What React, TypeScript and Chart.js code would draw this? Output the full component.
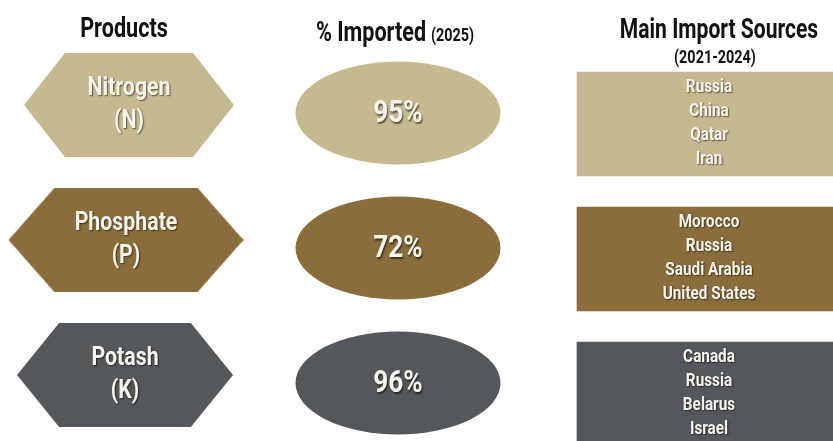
import React, { useEffect, useRef } from 'react';
import { Chart, registerables } from 'chart.js';

Chart.register(...registerables);

// ---------- data ----------
const products = ['Nitrogen', 'Phosphate', 'Potash'];
const symbols = ['N', 'P', 'K'];
const pctImported = [95, 72, 96];
const sourcesNitrogen = ['Russia', 'China', 'Qatar', 'Iran'];
const sourcesPhosphate = ['Morocco', 'Russia', 'Saudi Arabia', 'United States'];
const sourcesPotash = ['Canada', 'Russia', 'Belarus', 'Israel'];
const sources = [sourcesNitrogen, sourcesPhosphate, sourcesPotash];
const headerProducts = 'Products';
const headerImported = '% Imported';
const headerImportedYear = '(2025)';
const headerSources = 'Main Import Sources';
const headerSourcesYears = '(2021-2024)';

// ---------- layout / style ----------
const W = 833;
const H = 441;
const FILLS = ['#c7b98f', '#8b6d3c', '#54575c'];
const FONT = 'Roboto, "Liberation Sans", "DejaVu Sans", sans-serif';
const ROW_PX = 135;
const ROW0_PX = 113;
const Y_MIN = -ROW0_PX / ROW_PX;
const Y_MAX = Y_MIN + H / ROW_PX;
const HEX_CX = [129, 126, 125];
const HEX_W = [210, 235, 216];
const HEX_H = 104;
const HEX_DY = -8;
const ELL_CX = 398;
const ELL_W = 206;
const ELL_H = 104;
const RECT_X0 = 577;
const RECT_X1 = 845;
const RECT_H = 104;
const RECT_DY = 11;

function hexCanvas(w: number, h: number, color: string) {
  const c = document.createElement('canvas');
  c.width = w;
  c.height = h;
  const ctx = c.getContext('2d')!;
  const inset = w * 0.195;
  ctx.fillStyle = color;
  ctx.beginPath();
  ctx.moveTo(0, h / 2);
  ctx.lineTo(inset, 0);
  ctx.lineTo(w - inset, 0);
  ctx.lineTo(w, h / 2);
  ctx.lineTo(w - inset, h);
  ctx.lineTo(inset, h);
  ctx.closePath();
  ctx.fill();
  return c;
}

function ellipseCanvas(w: number, h: number, color: string) {
  const c = document.createElement('canvas');
  c.width = w;
  c.height = h;
  const ctx = c.getContext('2d')!;
  ctx.fillStyle = color;
  ctx.beginPath();
  ctx.ellipse(w / 2, h / 2, w / 2 - 0.5, h / 2 - 0.5, 0, 0, Math.PI * 2);
  ctx.fill();
  return c;
}

type TxtOpts = { size: number; sx?: number; color?: string; shadow?: boolean; align?: CanvasTextAlign; baseline?: CanvasTextBaseline };

function drawText(ctx: CanvasRenderingContext2D, text: string, x: number, y: number, o: TxtOpts) {
  ctx.save();
  ctx.translate(x, y);
  ctx.scale(o.sx ?? 0.82, 1);
  ctx.font = `bold ${o.size}px ${FONT}`;
  ctx.textAlign = o.align ?? 'center';
  ctx.textBaseline = o.baseline ?? 'middle';
  if (o.shadow) {
    ctx.shadowColor = 'rgba(0,0,0,0.55)';
    ctx.shadowOffsetX = 1;
    ctx.shadowOffsetY = 1.5;
    ctx.shadowBlur = 1.5;
  }
  ctx.fillStyle = o.color ?? '#f7f4ec';
  ctx.fillText(text, 0, 0);
  ctx.restore();
}

const labelsPlugin = {
  id: 'infoLabels',
  afterDatasetsDraw(chart: any) {
    const ctx: CanvasRenderingContext2D = chart.ctx;
    // headers
    drawText(ctx, headerProducts, 124, 37, { size: 27, sx: 0.8, color: '#111', baseline: 'alphabetic' });
    {
      ctx.save();
      const sx = 0.8;
      ctx.font = `bold 27px ${FONT}`;
      const w1 = ctx.measureText(headerImported).width;
      ctx.font = `bold 18px ${FONT}`;
      const w2 = ctx.measureText(headerImportedYear).width;
      ctx.restore();
      const gap = 6;
      const total = (w1 + gap + w2) * sx;
      const x0 = 395 - total / 2;
      drawText(ctx, headerImported, x0, 41, { size: 27, sx, color: '#111', align: 'left', baseline: 'alphabetic' });
      drawText(ctx, headerImportedYear, x0 + (w1 + gap) * sx, 41, { size: 18, sx, color: '#111', align: 'left', baseline: 'alphabetic' });
    }
    drawText(ctx, headerSources, 719, 38, { size: 27, sx: 0.78, color: '#111', baseline: 'alphabetic' });
    drawText(ctx, headerSourcesYears, 715, 63, { size: 18, sx: 0.8, color: '#111', baseline: 'alphabetic' });

    const hexMeta = chart.getDatasetMeta(1);
    const ellMeta = chart.getDatasetMeta(2);
    const barMeta = chart.getDatasetMeta(0);
    products.forEach((p, i) => {
      const hp = hexMeta.data[i];
      drawText(ctx, p, hp.x, hp.y - 17, { size: 26, sx: 0.82, shadow: true });
      drawText(ctx, `(${symbols[i]})`, hp.x, hp.y + 16, { size: 26, sx: 0.82, shadow: true });
      const ep = ellMeta.data[i];
      drawText(ctx, `${pctImported[i]}%`, ep.x, ep.y + 1, { size: 32, sx: 0.82, shadow: true });
      const bp = barMeta.data[i];
      const cx = 709;
      const list = sources[i];
      const lh = 24;
      list.forEach((s, j) => {
        drawText(ctx, s, cx, bp.y + (j - (list.length - 1) / 2) * lh - 1, { size: 18, sx: 0.85, shadow: true });
      });
    });
  },
};

export default function App() {
  const ref = useRef<HTMLCanvasElement>(null);
  useEffect(() => {
    document.body.style.margin = '0';
    const pxToUnits = (px: number) => px / ROW_PX;
    const hexStyles = products.map((_, i) => hexCanvas(HEX_W[i], HEX_H, FILLS[i]));
    const ellStyles = products.map((_, i) => ellipseCanvas(ELL_W, ELL_H, FILLS[i]));
    const chart = new Chart(ref.current!, {
      type: 'bar',
      data: {
        datasets: [
          {
            type: 'bar',
            label: 'Main Import Sources',
            data: products.map((_, i) => ({ x: [RECT_X0, RECT_X1], y: i + pxToUnits(RECT_DY) })) as any,
            backgroundColor: FILLS,
            borderWidth: 0,
            barThickness: RECT_H,
            clip: false,
          } as any,
          {
            type: 'scatter',
            label: 'Products',
            data: products.map((_, i) => ({ x: HEX_CX[i], y: i + pxToUnits(HEX_DY) })),
            pointStyle: hexStyles as any,
            pointRadius: 1,
            clip: false,
          } as any,
          {
            type: 'scatter',
            label: '% Imported',
            data: pctImported.map((_, i) => ({ x: ELL_CX, y: i })),
            pointStyle: ellStyles as any,
            pointRadius: 1,
            clip: false,
          } as any,
        ],
      },
      options: {
        indexAxis: 'y',
        responsive: false,
        animation: false,
        layout: { padding: 0, autoPadding: false },
        plugins: { legend: { display: false }, tooltip: { enabled: false }, title: { display: false } },
        scales: {
          x: { type: 'linear', min: 0, max: W, display: false, offset: false, grace: 0 },
          y: { type: 'linear', min: Y_MIN, max: Y_MAX, reverse: true, display: false, offset: false, grace: 0 },
        },
      },
      plugins: [labelsPlugin],
    });
    return () => chart.destroy();
  }, []);
  return (
    <div style={{ width: W, height: H, background: '#fff' }}>
      <canvas ref={ref} width={W} height={H} style={{ display: 'block' }} />
    </div>
  );
}
